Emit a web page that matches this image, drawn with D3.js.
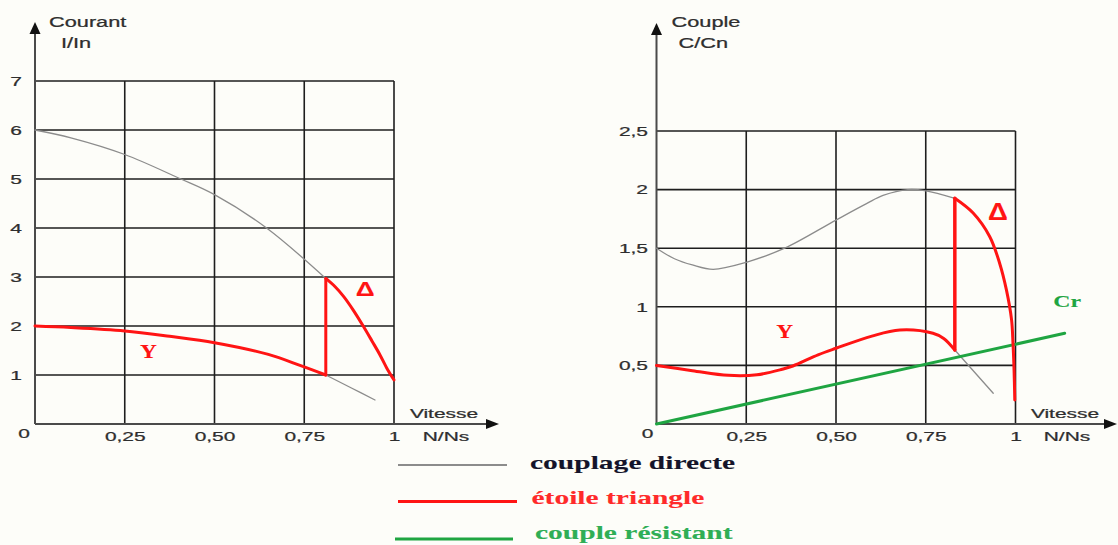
<!DOCTYPE html>
<html>
<head>
<meta charset="utf-8">
<script src="https://cdn.jsdelivr.net/npm/d3@7"></script>
<style>
  body { margin: 0; background: #fdfdf9; }
  svg { display: block; }
</style>
</head>
<body>
<svg id="chart" width="1118" height="545"></svg>
<script>
// ---- tick values and labels ----
const speedTicks = [0.25, 0.5, 0.75, 1];
const speedTickLabels = ["0,25", "0,50", "0,75", "1"];
const currentTicks = [1, 2, 3, 4, 5, 6, 7];
const currentTickLabels = ["1", "2", "3", "4", "5", "6", "7"];
const torqueTicks = [0.5, 1, 1.5, 2, 2.5];
const torqueTickLabels = ["0,5", "1", "1,5", "2", "2,5"];

// ---- current I/In versus speed N/Ns ----
const currentDirectX = [0, 0.1, 0.25, 0.4, 0.5, 0.645, 0.81];
const currentDirectY = [6, 5.84, 5.5, 5.02, 4.68, 4.0, 2.97];
const currentStarX = [0, 0.1, 0.25, 0.375, 0.5, 0.65, 0.74, 0.81];
const currentStarY = [2, 1.97, 1.9, 1.79, 1.66, 1.42, 1.19, 1.0];
const currentStarTailX = [0.81, 0.88, 0.947];
const currentStarTailY = [1.0, 0.74, 0.49];
const currentSwitchX = [0.81, 0.81];
const currentSwitchY = [1.0, 2.97];
const currentDeltaX = [0.81, 0.836, 0.86, 0.886, 0.915, 0.939, 0.961, 0.98, 1.0];
const currentDeltaY = [2.97, 2.8, 2.6, 2.33, 1.99, 1.69, 1.41, 1.14, 0.9];

// ---- torque C/Cn versus speed N/Ns ----
const torqueDirectX = [0, 0.05, 0.1, 0.158, 0.25, 0.357, 0.5, 0.585, 0.631, 0.7, 0.75, 0.831];
const torqueDirectY = [1.5, 1.41, 1.357, 1.32, 1.38, 1.5, 1.74, 1.88, 1.95, 2.0, 1.99, 1.926];
const torqueStarX = [0, 0.1, 0.2, 0.28, 0.35, 0.38, 0.45, 0.5, 0.6, 0.678, 0.77, 0.8, 0.831];
const torqueStarY = [0.5, 0.455, 0.415, 0.42, 0.467, 0.495, 0.59, 0.646, 0.75, 0.802, 0.774, 0.73, 0.631];
const torqueStarTailX = [0.831, 0.938];
const torqueStarTailY = [0.631, 0.262];
const torqueSwitchX = [0.831, 0.831];
const torqueSwitchY = [0.631, 1.926];
const torqueDeltaX = [0.831, 0.882, 0.928, 0.956, 0.975, 0.989, 0.993, 0.996, 0.998];
const torqueDeltaY = [1.926, 1.80, 1.60, 1.37, 1.14, 0.89, 0.69, 0.46, 0.205];
const loadTorqueX = [0, 1.137];
const loadTorqueY = [0, 0.774];

// ---- styles ----
const GRID = "#1e1e1e";
const AXIS = "#4a4a4a";
const LABEL = "#2e2e2e";
const GRAY = "#8c8c8c";
const RED = "#ff1414";
const GREEN = "#1fa542";
const SANS = "'Liberation Sans', Arial, sans-serif";
const SERIF = "'Liberation Serif', 'Times New Roman', serif";
const SX = 1.55;   // horizontal stretch of the lettering

const svg = d3.select("#chart");
svg.append("rect").attr("width", 1118).attr("height", 545).attr("fill", "#fdfdf9");

function zip(xs, ys) { return xs.map((x, i) => [x, ys[i]]); }

function stretched(g, x, y, str, o) {
  return g.append("text")
    .attr("transform", `translate(${x},${y}) scale(${o.sx || SX},1)`)
    .attr("text-anchor", o.anchor || "start")
    .attr("font-family", o.family || SANS)
    .attr("font-size", o.size || 13.5)
    .attr("font-weight", o.weight || "normal")
    .attr("fill", o.fill || LABEL)
    .attr("stroke", o.fill || LABEL).attr("stroke-width", o.halo || 0.25)
    .text(str);
}

function panel(cfg) {
  const g = svg.append("g");
  const x = d3.scaleLinear().domain([0, 1]).range(cfg.xRange);
  const y = d3.scaleLinear().domain([0, cfg.yMax]).range([424, cfg.yTop]);

  // grid
  g.selectAll(".vgrid").data(speedTicks).join("line")
    .attr("x1", d => x(d)).attr("x2", d => x(d))
    .attr("y1", y(0)).attr("y2", y(cfg.yMax))
    .attr("stroke", GRID).attr("stroke-width", 1.6);
  g.selectAll(".hgrid").data(cfg.yTicks).join("line")
    .attr("x1", x(0)).attr("x2", x(1))
    .attr("y1", d => y(d)).attr("y2", d => y(d))
    .attr("stroke", GRID).attr("stroke-width", 1.6);

  // axis lines with arrowheads
  const x0 = x(0), y0 = y(0);
  g.append("line").attr("x1", x0).attr("x2", x0).attr("y1", y0).attr("y2", 32)
    .attr("stroke", AXIS).attr("stroke-width", 2);
  g.append("path").attr("d", `M${x0},${cfg.yTip} L${x0 - 5.5},${cfg.yTip + 12} L${x0 + 5.5},${cfg.yTip + 12} Z`)
    .attr("fill", "#111");
  g.append("line").attr("x1", x0).attr("x2", cfg.xTip - 10).attr("y1", y0).attr("y2", y0)
    .attr("stroke", AXIS).attr("stroke-width", 2);
  g.append("path").attr("d", `M${cfg.xTip},${y0} L${cfg.xTip - 13},${y0 - 5} L${cfg.xTip - 13},${y0 + 5} Z`)
    .attr("fill", "#111");

  // tick labels
  const xa = g.append("g").attr("transform", `translate(0,${y0})`)
    .call(d3.axisBottom(x).tickValues(speedTicks)
      .tickFormat((d, i) => speedTickLabels[i]).tickSize(0).tickPadding(7.5));
  const ya = g.append("g").attr("transform", `translate(${x0},0)`)
    .call(d3.axisLeft(y).tickValues(cfg.yTicks)
      .tickFormat((d, i) => cfg.yTickLabels[i]).tickSize(0).tickPadding(cfg.yPad));
  [xa, ya].forEach(a => {
    a.select(".domain").remove();
    a.selectAll("text")
      .attr("font-family", SANS).attr("font-size", 13.5).attr("fill", LABEL)
      .attr("stroke", LABEL).attr("stroke-width", 0.25)
      .attr("transform", `scale(${SX},1)`);
  });
  stretched(g, cfg.zeroX, 438, "0", { anchor: "middle" });

  // axis titles
  stretched(g, cfg.title1X, 27, cfg.title1, { size: 15, sx: 1.45 });
  stretched(g, cfg.title2X, 48, cfg.title2, { size: 15, sx: 1.45 });
  stretched(g, cfg.speedX, 418, "Vitesse", { anchor: "middle" });
  stretched(g, cfg.speedX + 2, 441, "N/Ns", { anchor: "middle" });

  return { g, x, y };
}

function curve(p, xs, ys, color, width, smooth) {
  const line = d3.line().x(d => p.x(d[0])).y(d => p.y(d[1]))
    .curve(smooth ? d3.curveCatmullRom.alpha(0.5) : d3.curveLinear);
  p.g.append("path").attr("d", line(zip(xs, ys)))
    .attr("fill", "none").attr("stroke", color).attr("stroke-width", width)
    .attr("stroke-linejoin", "round").attr("stroke-linecap", "round");
}

// ---- left panel: current ----
const left = panel({
  xRange: [35, 394], yMax: 7, yTop: 81, yTicks: currentTicks, yTickLabels: currentTickLabels,
  yPad: 8.4, yTip: 22, xTip: 499, zeroX: 24,
  title1: "Courant", title1X: 49, title2: "I/In", title2X: 61, speedX: 444
});
curve(left, currentDirectX, currentDirectY, GRAY, 1.3, true);
curve(left, currentStarTailX, currentStarTailY, GRAY, 1.3, true);
curve(left, currentStarX, currentStarY, RED, 3, true);
curve(left, currentSwitchX, currentSwitchY, RED, 3, false);
curve(left, currentDeltaX, currentDeltaY, RED, 3, true);
stretched(left.g, left.x(0.316), left.y(1.35), "Y", { family: SERIF, weight: "bold", size: 18, sx: 1.3, fill: RED, anchor: "middle", halo: 0.1 });
stretched(left.g, left.x(0.92), left.y(2.61), "Δ", { family: SANS, weight: "bold", size: 21, sx: 1.25, fill: RED, anchor: "middle", halo: 0.1 });

// ---- right panel: torque ----
const right = panel({
  xRange: [656.5, 1015.5], yMax: 2.5, yTop: 131, yTicks: torqueTicks, yTickLabels: torqueTickLabels,
  yPad: 5.5, yTip: 23, xTip: 1117, zeroX: 647.5,
  title1: "Couple", title1X: 671.5, title2: "C/Cn", title2X: 678.5, speedX: 1065
});
curve(right, torqueDirectX, torqueDirectY, GRAY, 1.3, true);
curve(right, torqueStarTailX, torqueStarTailY, GRAY, 1.3, true);
curve(right, loadTorqueX, loadTorqueY, GREEN, 3, false);
curve(right, torqueStarX, torqueStarY, RED, 3, true);
curve(right, torqueSwitchX, torqueSwitchY, RED, 3.5, false);
curve(right, torqueDeltaX, torqueDeltaY, RED, 3, true);
stretched(right.g, right.x(0.357), right.y(0.735), "Y", { family: SERIF, weight: "bold", size: 18, sx: 1.3, fill: RED, anchor: "middle", halo: 0.1 });
stretched(right.g, right.x(0.951), right.y(1.74), "Δ", { family: SANS, weight: "bold", size: 23, sx: 1.2, fill: RED, anchor: "middle", halo: 0.1 });
stretched(right.g, right.x(1.144), right.y(1.0), "Cr", { family: SERIF, weight: "bold", size: 17, sx: 1.4, fill: GREEN, anchor: "middle", halo: 0.1 });

// ---- legend ----
const legendItems = ["couplage directe", "étoile triangle", "couple résistant"];
const legendColors = [GRAY, RED, GREEN];
const legendText = ["#14142a", "#ff2a2a", "#2fae55"];
const legendWidths = [2.2, 3.2, 3.2];
const lg = svg.append("g");
const rows = [
  { lx1: 398, lx2: 507, ly: 465, tx: 530, ty: 468.5 },
  { lx1: 398, lx2: 517, ly: 501.5, tx: 531.5, ty: 503.5 },
  { lx1: 395, lx2: 513, ly: 539, tx: 535, ty: 538.5 }
];
legendItems.forEach((name, i) => {
  const r = rows[i];
  lg.append("line").attr("x1", r.lx1).attr("x2", r.lx2).attr("y1", r.ly).attr("y2", r.ly)
    .attr("stroke", legendColors[i]).attr("stroke-width", legendWidths[i]);
  stretched(lg, r.tx, r.ty, name, { family: SERIF, weight: "bold", size: 18, sx: 1.64, fill: legendText[i], halo: 0.1 });
});
</script>
</body>
</html>
